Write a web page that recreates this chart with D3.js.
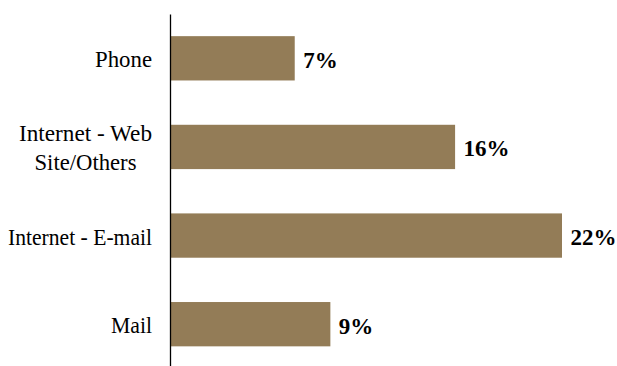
<!DOCTYPE html>
<html>
<head>
<meta charset="utf-8">
<script src="https://cdn.jsdelivr.net/npm/d3@7"></script>
<style>
  html, body { margin: 0; padding: 0; background: #fff; }
  svg { display: block; }
  text { font-family: "Liberation Serif", "Times New Roman", serif; fill: #000; }
</style>
</head>
<body>
<script>
// Contact channel shares
const categories = ["Phone", "Internet - Web Site/Others", "Internet - E-mail", "Mail"];
const categoryLines = [["Phone"], ["Internet - Web", "Site/Others"], ["Internet - E-mail"], ["Mail"]];
const values = [7, 16, 22, 9];
const valueLabels = ["7%", "16%", "22%", "9%"];

const width = 617, height = 366;
const axisX = 170;
const barColor = "#937C57";
const labelSize = 22.5;
const valueSize = 23;

// set widths used for the category text lines
const lineWidths = {
  "Phone": 57,
  "Internet - Web": 133,
  "Site/Others": 102,
  "Internet - E-mail": 144,
  "Mail": 41
};

const svg = d3.select("body").append("svg")
  .attr("width", width)
  .attr("height", height);

const x = d3.scaleLinear()
  .domain([0, 22])
  .range([axisX, axisX + 392]);

const y = d3.scaleBand()
  .domain(categories)
  .range([14, 368.5])
  .paddingInner(0.5)
  .paddingOuter(0.25);

// bars
svg.append("g").selectAll("rect")
  .data(values)
  .join("rect")
  .attr("x", x(0))
  .attr("y", (d, i) => y(categories[i]))
  .attr("width", d => x(d) - x(0))
  .attr("height", y.bandwidth())
  .attr("fill", barColor);

// vertical axis line, no ticks
const axis = svg.append("g")
  .attr("transform", `translate(${axisX},0)`)
  .call(d3.axisLeft(y).tickSize(0).tickFormat(""));
axis.select(".domain").attr("stroke", "#000").attr("stroke-width", 1.3);

// category labels, right-aligned block with centred lines
const labelRight = 152;
const lineGap = 29;
categoryLines.forEach((lines, i) => {
  const cy = y(categories[i]) + y.bandwidth() / 2;
  const maxW = d3.max(lines, ln => lineWidths[ln]);
  const g = svg.append("g");
  lines.forEach((ln, k) => {
    g.append("text")
      .attr("font-size", labelSize)
      .attr("text-anchor", "middle")
      .attr("x", labelRight - maxW / 2)
      .attr("y", cy + 9 + (k - (lines.length - 1) / 2) * lineGap)
      .attr("textLength", lineWidths[ln])
      .attr("lengthAdjust", "spacingAndGlyphs")
      .text(ln);
  });
});

// value labels
svg.append("g").selectAll("text")
  .data(values)
  .join("text")
  .attr("x", d => x(d) + 8.5)
  .attr("y", (d, i) => y(categories[i]) + y.bandwidth() / 2 + 9.5)
  .attr("font-size", valueSize)
  .attr("font-weight", "bold")
  .text((d, i) => valueLabels[i]);
</script>
</body>
</html>
